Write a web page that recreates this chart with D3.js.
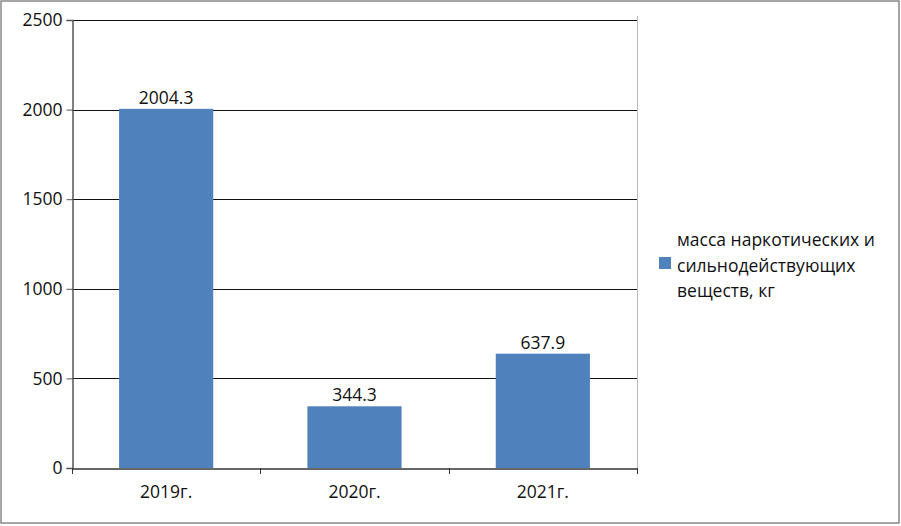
<!DOCTYPE html>
<html><head><meta charset="utf-8">
<script src="https://cdn.jsdelivr.net/npm/d3@7"></script>
<style>body{margin:0;background:#fff;}svg{display:block;font-family:"Open Sans","Noto Sans",sans-serif;}</style>
</head><body>
<svg id="c" width="901" height="526"></svg>
<script>
const categories = ["2019г.", "2020г.", "2021г."];
const values = [2004.3, 344.3, 637.9];
const yTicks = [0, 500, 1000, 1500, 2000, 2500];
const legendLines = ["масса наркотических и", "сильнодействующих", "веществ, кг"];

const svg = d3.select("#c");
const W = 901, H = 526;
const L = 72, R = 637, T = 20, B = 468;
const FS = 17.5;

svg.append("rect").attr("x",1).attr("y",1).attr("width",W-3).attr("height",H-4)
  .attr("fill","#fff").attr("stroke","#888").attr("stroke-width",1.5);

const x = d3.scaleBand().domain(categories).range([L,R]).paddingInner(0).paddingOuter(0);
const y = d3.scaleLinear().domain([0,2500]).range([B,T]);

// plot right border
svg.append("line").attr("x1",R+0.5).attr("x2",R+0.5).attr("y1",T-4).attr("y2",B)
  .attr("stroke","#bbb");

// gridlines
svg.append("g").selectAll("line").data(yTicks.filter(d=>d>0)).join("line")
  .attr("x1",L).attr("x2",R).attr("y1",d=>Math.round(y(d))+0.5).attr("y2",d=>Math.round(y(d))+0.5)
  .attr("stroke","#111").attr("stroke-width",1);

// bars
const bw = x.bandwidth()*0.5;
svg.append("g").selectAll("rect").data(values).join("rect")
  .attr("x",(d,i)=>x(categories[i])+x.bandwidth()/2-bw/2)
  .attr("width",bw)
  .attr("y",d=>y(d)).attr("height",d=>B-y(d))
  .attr("fill","#4F81BD");

// value labels
svg.append("g").selectAll("text").data(values).join("text")
  .attr("x",(d,i)=>x(categories[i])+x.bandwidth()/2)
  .attr("y",d=>y(d)-5)
  .attr("text-anchor","middle").attr("font-size",FS).attr("fill","#111")
  .text(d=>d.toFixed(1));

// y axis
const ya = d3.axisLeft(y).tickValues(yTicks).tickSize(6).tickPadding(4).tickFormat(d3.format("d"));
const gy = svg.append("g").attr("transform",`translate(${L+0.5},0)`).call(ya);
gy.select(".domain").attr("stroke","#555").attr("stroke-width",1.5);
gy.selectAll(".tick line").attr("stroke","#555");
gy.selectAll("text").attr("font-size",FS).attr("fill","#111").attr("font-family","Open Sans, sans-serif");

// x axis
const xa = d3.axisBottom(x).tickSize(0).tickPadding(17);
const gx = svg.append("g").attr("transform",`translate(0,${B+0.5})`).call(xa);
gx.select(".domain").attr("stroke","#333").attr("stroke-width",1.5);
gx.selectAll("text").attr("font-size",FS).attr("fill","#111").attr("font-family","Open Sans, sans-serif");
// x tick marks at band boundaries
const bounds = categories.map(c=>x(c)).concat([R]);
svg.append("g").selectAll("line").data(bounds).join("line")
  .attr("x1",d=>Math.round(d)+0.5).attr("x2",d=>Math.round(d)+0.5)
  .attr("y1",B).attr("y2",B+6).attr("stroke","#333");

// legend
const lg = svg.append("g");
lg.append("rect").attr("x",659).attr("y",257).attr("width",12).attr("height",12).attr("fill","#4F81BD");
lg.selectAll("text").data(legendLines).join("text")
  .attr("x",677).attr("y",(d,i)=>246+i*25.5)
  .attr("font-size",FS).attr("fill","#111").text(d=>d);
</script>
</body></html>
